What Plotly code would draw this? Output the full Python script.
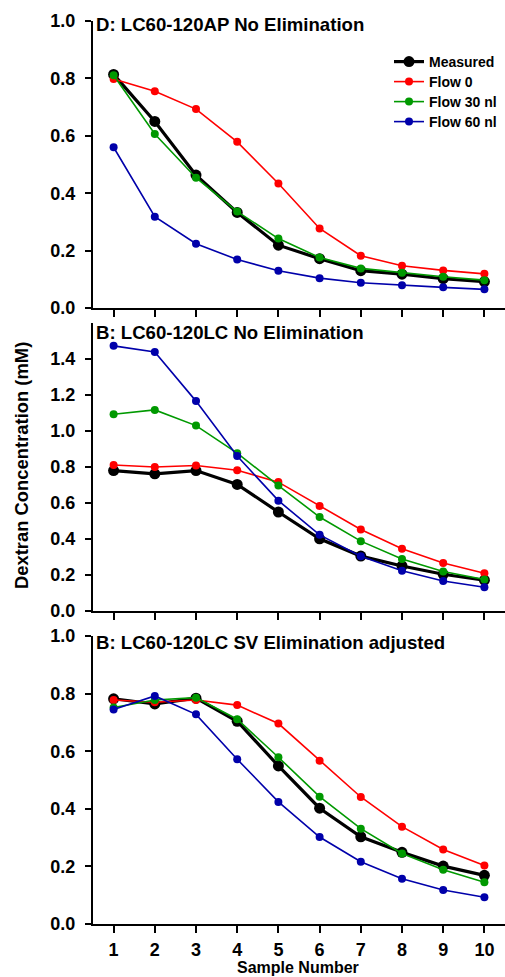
import plotly.graph_objects as go

# ---------------- data ----------------
samples = [1, 2, 3, 4, 5, 6, 7, 8, 9, 10]
series_names = ["Measured", "Flow 0", "Flow 30 nl", "Flow 60 nl"]

# Panel D: LC60-120AP No Elimination
d_measured = [0.814, 0.650, 0.463, 0.333, 0.219, 0.172, 0.130, 0.118, 0.102, 0.092]
d_flow0 = [0.798, 0.755, 0.693, 0.579, 0.434, 0.277, 0.182, 0.147, 0.131, 0.119]
d_flow30 = [0.811, 0.606, 0.454, 0.336, 0.242, 0.176, 0.138, 0.123, 0.109, 0.097]
d_flow60 = [0.560, 0.318, 0.224, 0.169, 0.130, 0.104, 0.088, 0.079, 0.072, 0.065]

# Panel B: LC60-120LC No Elimination
b_measured = [0.780, 0.762, 0.780, 0.703, 0.550, 0.401, 0.305, 0.250, 0.204, 0.171]
b_flow0 = [0.811, 0.800, 0.808, 0.782, 0.716, 0.583, 0.453, 0.346, 0.267, 0.210]
b_flow30 = [1.093, 1.117, 1.030, 0.877, 0.697, 0.522, 0.388, 0.289, 0.219, 0.175]
b_flow60 = [1.473, 1.439, 1.166, 0.861, 0.613, 0.423, 0.304, 0.224, 0.167, 0.132]

# Panel B: LC60-120LC SV Elimination adjusted
s_measured = [0.782, 0.764, 0.784, 0.704, 0.549, 0.402, 0.303, 0.249, 0.201, 0.169]
s_flow0 = [0.778, 0.770, 0.778, 0.760, 0.696, 0.567, 0.441, 0.338, 0.259, 0.203]
s_flow30 = [0.752, 0.778, 0.786, 0.711, 0.579, 0.442, 0.331, 0.245, 0.188, 0.145]
s_flow60 = [0.745, 0.792, 0.728, 0.572, 0.424, 0.302, 0.216, 0.157, 0.118, 0.093]

panel_titles = ["D: LC60-120AP No Elimination",
                "B: LC60-120LC No Elimination",
                "B: LC60-120LC SV Elimination adjusted"]
y_title = "Dextran Concentration (mM)"
x_title = "Sample Number"
x_ticklabels = ["1", "2", "3", "4", "5", "6", "7", "8", "9", "10"]
y_ticks_small = [0.0, 0.2, 0.4, 0.6, 0.8, 1.0]
y_ticks_big = [0.0, 0.2, 0.4, 0.6, 0.8, 1.0, 1.2, 1.4]

# ---------------- style ----------------
W, H = 505, 977
ML, MR = 93, 0
PW = W - ML - MR
FONT = "Liberation Sans, Arial, sans-serif"
colors = ["#000000", "#FF0000", "#009900", "#0000AA"]
widths = [3.2, 1.6, 1.6, 1.6]
msizes = [11, 8, 8, 8]
legend_ids = ["legend", "legend2", "legend3", "legend4"]
legend_row_px = [62, 82, 102, 122]   # vertical centre of each legend row

def py(p):  # pixel y (from top) -> paper
    return (H - p) / H

def px(p):  # pixel x -> paper
    return (p - ML) / PW

# pixel extents (top, bottom) of each panel
panels_px = [(21, 308), (323, 611), (636, 924)]
yranges = [[0, 1.0], [0, 1.6], [0, 1.0]]
yticks = [y_ticks_small, y_ticks_big, y_ticks_small]
data = [
    [d_measured, d_flow0, d_flow30, d_flow60],
    [b_measured, b_flow0, b_flow30, b_flow60],
    [s_measured, s_flow0, s_flow30, s_flow60],
]

fig = go.Figure()
for pi, pdata in enumerate(data):
    xa = "x" if pi == 0 else f"x{pi+1}"
    ya = "y" if pi == 0 else f"y{pi+1}"
    for si, vals in enumerate(pdata):
        fig.add_trace(go.Scatter(
            x=samples, y=vals, mode="lines+markers",
            name=series_names[si],
            line=dict(color=colors[si], width=widths[si]),
            marker=dict(color=colors[si], size=msizes[si]),
            xaxis=xa, yaxis=ya, legend=legend_ids[si],
            showlegend=(pi == 0), cliponaxis=False,
        ))

layout = dict(
    width=W, height=H, autosize=False,
    margin=dict(l=ML, r=MR, t=0, b=0, pad=0, autoexpand=False),
    paper_bgcolor="white", plot_bgcolor="white",
    font=dict(family=FONT, color="black", size=18),
    annotations=[],
)
for li, lid in enumerate(legend_ids):
    layout[lid] = dict(
        x=px(389), y=py(legend_row_px[li] - 16), xanchor="left", yanchor="top",
        bgcolor="rgba(0,0,0,0)", borderwidth=0,
        font=dict(family=FONT, size=14, color="black", weight="bold"),
        tracegroupgap=0, itemwidth=30,
    )

for pi in range(3):
    xk = "xaxis" if pi == 0 else f"xaxis{pi+1}"
    yk = "yaxis" if pi == 0 else f"yaxis{pi+1}"
    ya = "y" if pi == 0 else f"y{pi+1}"
    xa = "x" if pi == 0 else f"x{pi+1}"
    top, bot = panels_px[pi]
    layout[xk] = dict(
        domain=[0, 1], anchor=ya, range=[0.5, 10.5], automargin=False,
        tickmode="array", tickvals=samples,
        ticktext=x_ticklabels if pi == 2 else [""] * 10,
        showticklabels=(pi == 2), ticklabelstandoff=1,
        ticks="outside", ticklen=7, tickwidth=2, tickcolor="black",
        showline=True, linecolor="black", linewidth=2,
        showgrid=False, zeroline=False,
        tickfont=dict(family=FONT, size=18, color="black", weight="bold"),
    )
    layout[yk] = dict(
        domain=[py(bot), py(top)], anchor=xa, range=yranges[pi], automargin=False,
        tickmode="array", tickvals=yticks[pi],
        ticktext=[f"{v:.1f}" for v in yticks[pi]], ticklabelstandoff=6,
        ticks="outside", ticklen=6, tickwidth=2, tickcolor="black",
        showline=True, linecolor="black", linewidth=2,
        showgrid=False, zeroline=False,
        tickfont=dict(family=FONT, size=18, color="black", weight="bold"),
    )
    title_y = [25, 333, 643][pi]
    layout["annotations"].append(dict(
        text=panel_titles[pi], xref="paper", yref="paper",
        x=px(94), y=py(title_y), xanchor="left", yanchor="middle",
        showarrow=False,
        font=dict(family=FONT, size=18.6, color="black", weight="bold"),
    ))

layout["annotations"].append(dict(
    text=y_title, xref="paper", yref="paper", x=px(21), y=py(466),
    xanchor="center", yanchor="middle", textangle=-90, showarrow=False,
    font=dict(family=FONT, size=18.4, color="black", weight="bold"),
))
layout["annotations"].append(dict(
    text=x_title, xref="paper", yref="paper", x=px(298), y=0,
    xanchor="center", yanchor="bottom", showarrow=False, borderpad=0,
    font=dict(family=FONT, size=16, color="black", weight="bold"),
))

fig.update_layout(**layout)
fig.write_html("out.html", config={"displayModeBar": False},
               post_script="document.body.style.margin='0';document.body.style.overflow='hidden';")
